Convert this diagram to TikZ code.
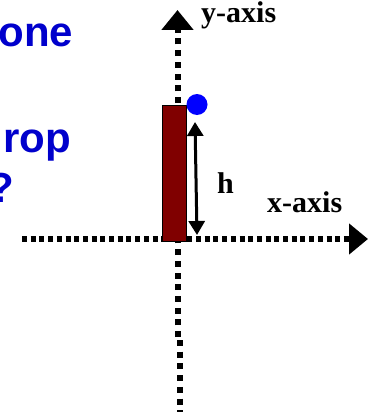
\documentclass[tikz,border=0pt]{standalone}
\usepackage{fontspec}
\setmainfont{Liberation Serif}
\newfontfamily\blueface{Liberation Sans}
\usetikzlibrary{arrows.meta}
\definecolor{barred}{RGB}{128,0,0}
\definecolor{textblue}{RGB}{0,0,204}
\definecolor{dotblue}{RGB}{0,0,255}
\tikzset{
  axisy/.style={line width=6pt, dash pattern=on 6pt off 5.7pt, -{Triangle[length=20pt,width=31pt]}},
  axisyplain/.style={line width=6pt, dash pattern=on 6pt off 5.7pt},
  axisx/.style={line width=6pt, dash pattern=on 5pt off 3.7pt, -{Triangle[length=19pt,width=30pt]}},
  bluetext/.style={font=\blueface\bfseries\fontsize{42}{50}\selectfont, text=textblue, inner sep=0pt, anchor=base east},
  axislabel/.style={font=\bfseries\fontsize{30}{36}\selectfont, inner sep=0pt, anchor=base west},
  bar/.style={draw=black, line width=1pt, fill=barred, minimum width=24pt, minimum height=136pt, inner sep=0pt},
  harrow/.style={line width=3pt, {Triangle[length=14pt,width=16pt]}-{Triangle[length=14pt,width=16pt]}}
}
\begin{document}
\begin{tikzpicture}[x=1pt,y=-1pt]
\useasboundingbox (0,0) rectangle (371,412);
\clip (0,0) rectangle (371,412);
% texts on the left
\node[bluetext] (one) at (73.5,47) {one};
\node[bluetext] (drop) at (71.5,152) {drop};
\node[bluetext] (q) at (14,202) {?};
% axes
\coordinate (ybot) at (177.5,337);
\coordinate (ytop) at (177.5,10);
\coordinate (ybot2a) at (179.5,340);
\coordinate (ybot2b) at (179.5,414);
\coordinate (xleft) at (22,239);
\coordinate (xright) at (368,239);
\draw[axisy] (ybot) -- (ytop);
\draw[axisyplain] (ybot2a) -- (ybot2b);
\draw[axisx] (xleft) -- (xright);
% bar
\node[bar] (rod) at (174,173) {};
% ball
\node[circle, fill=dotblue, minimum size=21pt, inner sep=0pt] (ball) at (197,104.5) {};
% height arrow
\coordinate (htop) at (195,122);
\coordinate (hbot) at (197,235);
\draw[harrow] (htop) -- (hbot);
% labels
\node[axislabel] (hl) at (217,193) {h};
\node[axislabel] (yl) at (201,23) {y-axis};
\node[axislabel] (xl) at (267,212) {x-axis};
\end{tikzpicture}
\end{document}
